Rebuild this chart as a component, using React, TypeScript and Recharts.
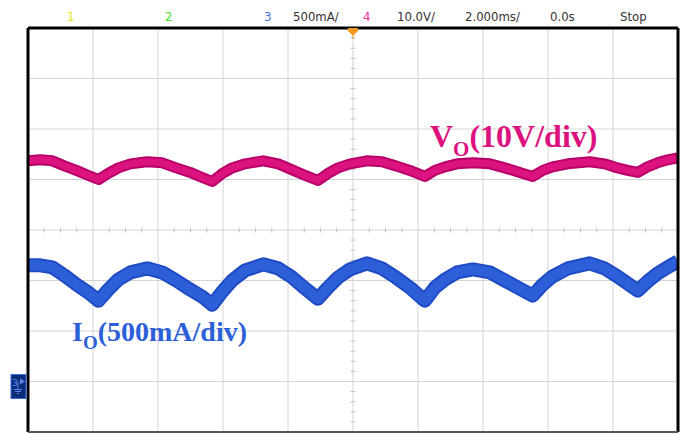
import { LineChart, Line, XAxis, YAxis, ReferenceLine, ReferenceDot } from 'recharts'

// time base: 2 ms/div, 10 divisions
const timeMs = [
  -10, -9.62, -9.25, -8.88, -8.51, -8.14, -7.83, -7.53, -7.22, -6.85, -6.33, -5.87, -5.44,
  -5.01, -4.64, -4.33, -4.02, -3.72, -3.32, -2.76, -2.3, -1.87, -1.47, -1.08, -0.77, -0.46,
  -0.09, 0.43, 0.89, 1.32, 1.75, 2.21, 2.52, 2.83, 3.2, 3.69, 4.21, 4.67, 5.13, 5.53, 5.84,
  6.14, 6.61, 7.28, 7.74, 8.14, 8.45, 8.76, 9.06, 9.37, 9.68, 10,
]

// channel 4, output voltage (V)
const voVolts = [
  43.7, 43.9, 43.7, 42.7, 41.8, 40.8, 40.0, 41.2, 42.3, 43.1, 43.5, 43.3, 42.3,
  41.4, 40.4, 39.6, 41.2, 42.3, 43.1, 43.7, 43.1, 41.9, 40.8, 39.8, 41.2, 42.3,
  43.1, 43.7, 43.5, 42.7, 41.8, 40.6, 41.8, 42.5, 43.1, 43.3, 43.1, 42.3, 41.4, 40.6, 41.8,
  42.5, 43.1, 43.5, 43.1, 42.3, 41.8, 41.4, 42.5, 43.3, 43.9, 44.3,
]

// channel 3, output current (A)
const ioAmps = [
  1.15, 1.15, 1.13, 1.05, 0.96, 0.88, 0.8, 0.91, 1.01, 1.08, 1.12, 1.08, 1.0,
  0.91, 0.84, 0.76, 0.89, 1.0, 1.1, 1.16, 1.12, 1.03, 0.92, 0.82, 0.93, 1.03,
  1.11, 1.17, 1.12, 1.03, 0.93, 0.8, 0.93, 1.01, 1.08, 1.11, 1.08, 1.0, 0.92, 0.85, 0.96,
  1.04, 1.12, 1.17, 1.12, 1.04, 0.97, 0.9, 0.99, 1.07, 1.13, 1.19,
]

const VO_PER_DIV = 10
const IO_PER_DIV = 0.5
const GROUND_DIV = -3

const data = timeMs.map((t, i) => ({ t, vo: voVolts[i], io: ioAmps[i] }))

const W = 691
const H = 434
const LEFT = 28
const RIGHT = 678
const TOP = 28
const BOTTOM = 432

const xMajor = [-8, -6, -4, -2, 0, 2, 4, 6, 8]
const yMajor = [-3, -2, -1, 0, 1, 2, 3]
const xMinor: number[] = []
for (let t = -9.5; t < 10; t += 0.5) if (Math.abs(t % 2) > 0.01) xMinor.push(t)
const yMinor: number[] = []
for (let d = -3.8; d < 4; d += 0.2) if (Math.abs(d - Math.round(d)) > 0.01) yMinor.push(d)

const GRID = '#d4d4d4'
const PINK = '#dc127f'
const PINK_DARK = '#b8006a'
const BLUE = '#2d5fd8'
const BLUE_DARK = '#1f4cc4'

const header = [
  { text: '1', x: 67, color: '#e6e600' },
  { text: '2', x: 165, color: '#3ee01a' },
  { text: '3', x: 264, color: '#4a72e6' },
  { text: '500mA/', x: 293, color: '#333' },
  { text: '4', x: 363, color: '#ee2e98' },
  { text: '10.0V/', x: 397, color: '#333' },
  { text: '2.000ms/', x: 465, color: '#333' },
  { text: '0.0s', x: 550, color: '#333' },
  { text: 'Stop', x: 620, color: '#333' },
]

const TriggerMark = ({ cx, cy }: { cx?: number; cy?: number }) => {
  const x = cx ?? 0
  const y = cy ?? 0
  return (
    <g>
      <polygon points={`${x - 5},${y} ${x + 5},${y} ${x + 5},${y + 3} ${x},${y + 8} ${x - 5},${y + 3}`} fill="#f39a1e" />
      <line x1={x} y1={y + 8} x2={x} y2={y + 11} stroke="#f39a1e" strokeWidth={1} />
    </g>
  )
}

const GroundMark = ({ cx, cy }: { cx?: number; cy?: number }) => {
  const x = (cx ?? 0) - 2
  const y = cy ?? 0
  return (
    <g>
      <rect x={x - 15} y={y - 7} width={15} height={24} fill="#0c2c78" stroke="#3a6be0" strokeWidth={1} />
      <text x={x - 14} y={y + 4} fontSize={9} fill="#5b86f0" fontFamily="DejaVu Sans">3</text>
      <polygon points={`${x - 6},${y - 3} ${x - 1},${y} ${x - 6},${y + 3}`} fill="#5b86f0" />
      <line x1={x - 8} y1={y} x2={x - 8} y2={y + 8} stroke="#5b86f0" strokeWidth={1} />
      <line x1={x - 12} y1={y + 8} x2={x - 4} y2={y + 8} stroke="#5b86f0" strokeWidth={1} />
      <line x1={x - 11} y1={y + 10} x2={x - 5} y2={y + 10} stroke="#5b86f0" strokeWidth={1} />
      <line x1={x - 9} y1={y + 12} x2={x - 7} y2={y + 12} stroke="#5b86f0" strokeWidth={1} />
    </g>
  )
}

export default function App() {
  return (
    <div style={{ position: 'absolute', left: 0, top: 0, width: W, height: H, background: '#fff' }}>
      <LineChart
        width={W}
        height={H}
        data={data}
        margin={{ top: TOP, left: LEFT, right: W - RIGHT, bottom: H - BOTTOM }}
      >
        <XAxis dataKey="t" type="number" domain={[-10, 10]} hide allowDataOverflow />
        <YAxis yAxisId="div" type="number" domain={[-4, 4]} hide allowDataOverflow />
        <YAxis
          yAxisId="vo"
          type="number"
          domain={[(-4 - GROUND_DIV) * VO_PER_DIV, (4 - GROUND_DIV) * VO_PER_DIV]}
          hide
          allowDataOverflow
        />
        <YAxis
          yAxisId="io"
          type="number"
          domain={[(-4 - GROUND_DIV) * IO_PER_DIV, (4 - GROUND_DIV) * IO_PER_DIV]}
          hide
          allowDataOverflow
        />

        {xMajor.map((t) => (
          <ReferenceLine key={`gx${t}`} yAxisId="div" x={t} stroke={GRID} strokeWidth={1} />
        ))}
        {yMajor.map((d) => (
          <ReferenceLine key={`gy${d}`} yAxisId="div" y={d} stroke={GRID} strokeWidth={1} />
        ))}
        {xMinor.map((t) => (
          <ReferenceLine
            key={`mx${t}`}
            yAxisId="div"
            segment={[{ x: t, y: -0.05 }, { x: t, y: 0.05 }]}
            stroke="#c4c4c4"
          />
        ))}
        {yMinor.map((d) => (
          <ReferenceLine
            key={`my${d}`}
            yAxisId="div"
            segment={[{ x: -0.08, y: d }, { x: 0.08, y: d }]}
            stroke="#c4c4c4"
          />
        ))}

        <Line yAxisId="vo" dataKey="vo" type="linear" stroke={PINK_DARK} strokeWidth={11}
          dot={false} activeDot={false} isAnimationActive={false} strokeLinejoin="round" />
        <Line yAxisId="vo" dataKey="vo" type="linear" stroke={PINK} strokeWidth={7}
          dot={false} activeDot={false} isAnimationActive={false} strokeLinejoin="round" />
        <Line yAxisId="io" dataKey="io" type="linear" stroke={BLUE_DARK} strokeWidth={14}
          dot={false} activeDot={false} isAnimationActive={false} strokeLinejoin="round" />
        <Line yAxisId="io" dataKey="io" type="linear" stroke={BLUE} strokeWidth={10}
          dot={false} activeDot={false} isAnimationActive={false} strokeLinejoin="round" />

        {/* screen frame */}
        <ReferenceLine yAxisId="div" x={-10} stroke="#000" strokeWidth={3} />
        <ReferenceLine yAxisId="div" x={10} stroke="#000" strokeWidth={3} />
        <ReferenceLine yAxisId="div" y={4} stroke="#000" strokeWidth={3} />
        <ReferenceLine yAxisId="div" y={-4} stroke="#555" strokeWidth={2} />

        <ReferenceDot yAxisId="div" x={0} y={4} r={0} shape={TriggerMark} />
        <ReferenceDot yAxisId="div" x={-10} y={GROUND_DIV} r={0} shape={GroundMark} />
      </LineChart>

      {header.map((h) => (
        <span
          key={h.text + h.x}
          style={{
            position: 'absolute',
            left: h.x,
            top: 10,
            fontSize: 13,
            lineHeight: '14px',
            color: h.color,
            fontFamily: "'Liberation Sans Narrow', 'DejaVu Sans Condensed', sans-serif",
            whiteSpace: 'nowrap',
          }}
        >
          {h.text}
        </span>
      ))}

      <div
        style={{
          position: 'absolute', left: 430, top: 120, fontSize: 32, lineHeight: '32px',
          fontWeight: 'bold', color: PINK, fontFamily: "'Liberation Serif', serif", whiteSpace: 'nowrap',
        }}
      >
        V<span style={{ fontSize: 21, verticalAlign: '-9px' }}>O</span>(10V/div)
      </div>
      <div
        style={{
          position: 'absolute', left: 72, top: 318, fontSize: 28, lineHeight: '28px',
          fontWeight: 'bold', color: BLUE, fontFamily: "'Liberation Serif', serif", whiteSpace: 'nowrap',
        }}
      >
        I<span style={{ fontSize: 19, verticalAlign: '-8px' }}>O</span>(500mA/div)
      </div>
    </div>
  )
}
